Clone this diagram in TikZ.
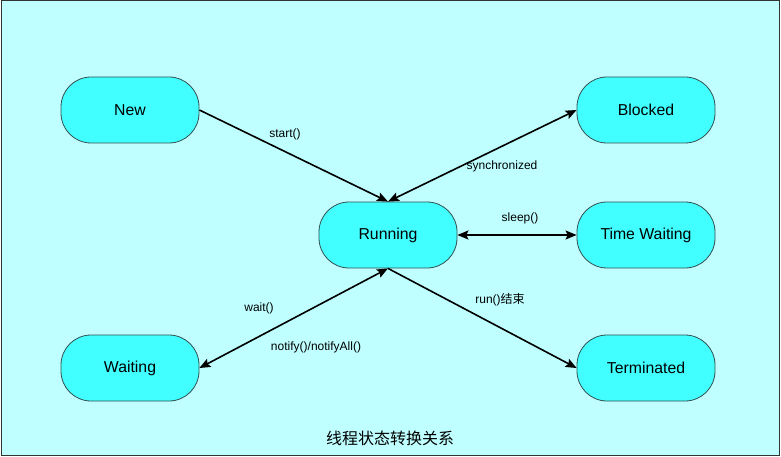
\documentclass[tikz,border=0pt]{standalone}
\usepackage{fontspec}
\setmainfont{Liberation Sans}
\newfontfamily\cjk{Noto Sans CJK SC}
\usetikzlibrary{arrows.meta,positioning}
\definecolor{bgcyan}{RGB}{192,255,255}
\definecolor{statecyan}{RGB}{66,255,255}
\definecolor{stateline}{RGB}{50,80,80}

\begin{document}
\begin{tikzpicture}[x=1pt,y=-1pt]

% --- STYLES ---
\tikzset{
  state/.style={rectangle, rounded corners=30pt, draw=stateline, fill=statecyan,
                line width=0.8pt, minimum width=138pt, minimum height=66pt,
                font=\fontsize{15.8}{18}\selectfont},
  lbl/.style={font=\fontsize{12}{14}\selectfont, inner sep=1pt},
  trans/.style={black, line width=1.6pt, -{Stealth[length=11pt,width=9pt,inset=2pt]}},
  twoway/.style={trans, {Stealth[length=11pt,width=9pt,inset=2pt]}-{Stealth[length=11pt,width=9pt,inset=2pt]}},
}

% ================= BACKGROUND & FRAME =================
\useasboundingbox (0,0) rectangle (781,457);
\draw[fill=bgcyan, draw=black!80, line width=1pt] (1,1) rectangle (779,455);

% ================= STATES =================
\node[state] (new)     at (130,110) {New};
\node[state] (blocked) at (646,110) {Blocked};
\node[state] (running) at (388,235) {Running};
\node[state] (timed)   at (646,235) {Time Waiting};
\node[state] (waiting) at (130,368) {Waiting};
\node[state] (term)    at (646,368) {Terminated};

% ================= TRANSITIONS =================
\draw[trans]  (new.east)      -- (running.north);
\draw[twoway] (running.north) -- (blocked.west);
\draw[twoway] (running.east)  -- (timed.west);
\draw[twoway] (running.south) -- (waiting.east);
\draw[trans]  (running.south) -- (term.west);

% ================= LABELS =================
\node[lbl] (lstart)  at (285,134) {start()};
\node[lbl] (lsync)   at (502,166) {synchronized};
\node[lbl] (lsleep)  at (520,218) {sleep()};
\node[lbl] (lwait)   at (259,308) {wait()};
\node[lbl] (lnotify) at (316,347) {notify()/notifyAll()};
\node[lbl] (lrun)    at (500,300) {run(){\cjk 结束}};

% ================= TITLE =================
\node[font=\cjk\fontsize{16}{19}\selectfont] (title) at (390,438) {线程状态转换关系};

\end{tikzpicture}
\end{document}
